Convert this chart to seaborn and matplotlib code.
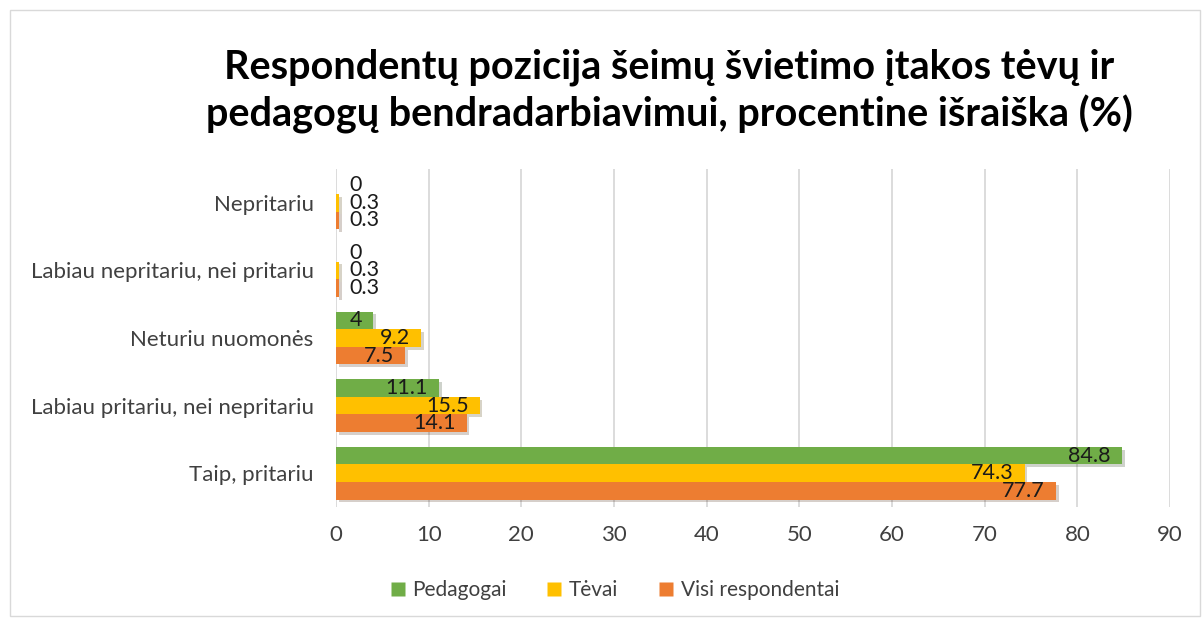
import matplotlib
matplotlib.use("Agg")
import matplotlib.pyplot as plt
import matplotlib.patheffects as pe
from matplotlib.patches import Rectangle
from matplotlib.lines import Line2D
import seaborn as sns
import pandas as pd

# Data
categories = ["Nepritariu", "Labiau nepritariu, nei pritariu", "Neturiu nuomonės",
              "Labiau pritariu, nei nepritariu", "Taip, pritariu"]
series = ["Pedagogai", "Tėvai", "Visi respondentai"]
pedagogai = [0, 0, 4, 11.1, 84.8]
tevai = [0.3, 0.3, 9.2, 15.5, 74.3]
visi = [0.3, 0.3, 7.5, 14.1, 77.7]
colors = ["#70AD47", "#FFC000", "#ED7D31"]

rows = []
for s, vals in zip(series, [pedagogai, tevai, visi]):
    for c, v in zip(categories, vals):
        rows.append({"Kategorija": c, "Grupė": s, "Reikšmė": v})
df = pd.DataFrame(rows)

sns.set_style("white")
plt.rcParams['font.family'] = ['Lato', 'DejaVu Sans']

fig = plt.figure(figsize=(12.02, 6.2), dpi=100)
ax = fig.add_axes([0.2795, 0.1823, 0.6939, 0.5451])

sns.barplot(data=df, y="Kategorija", x="Reikšmė", hue="Grupė", order=categories,
            hue_order=series, palette=colors, orient="h", width=0.78,
            saturation=1, ax=ax, legend=False)

shadow = [pe.SimplePatchShadow(offset=(2, -2), alpha=0.22), pe.Normal()]
for cont in ax.containers:
    for bar in cont:
        bar.set_path_effects(shadow)
        bar.set_edgecolor("none")
        w = bar.get_width()
        yc = bar.get_y() + bar.get_height() / 2
        if w < 2:
            ax.annotate(f"{w:g}", (0, yc), xytext=(10, 0), textcoords="offset points",
                        ha="left", va="center", fontsize=15.5, color="#1a1a1a")
        else:
            ax.annotate(f"{w:g}", (w, yc), xytext=(-8, 0), textcoords="offset points",
                        ha="right", va="center", fontsize=15.5, color="#1a1a1a")

ax.set_xlim(0, 90)
ax.set_xticks(range(0, 91, 10))
ax.grid(axis="x", color="#D9D9D9", linewidth=1.3)
ax.set_axisbelow(True)
for sp in ax.spines.values():
    sp.set_visible(False)
ax.set_xlabel("")
ax.set_ylabel("")
ax.tick_params(axis="both", length=0, labelsize=16, labelcolor="#404040")
ax.tick_params(axis="y", pad=16)
ax.tick_params(axis="x", pad=13)

fig.text(0.557, 0.853, "Respondentų pozicija šeimų švietimo įtakos tėvų ir\n"
         "pedagogų bendradarbiavimui, procentine išraiška (%)",
         ha="center", va="center", fontsize=28.5, fontweight="bold",
         color="#000000", linespacing=1.3)

handles = [Line2D([0], [0], marker="s", color="none", markerfacecolor=c,
                  markeredgecolor="none", markersize=10) for c in colors]
fig.legend(handles, series, loc="center", bbox_to_anchor=(0.511, 0.048), ncol=3,
           frameon=False, fontsize=15, handlelength=0.8, handletextpad=0.3,
           columnspacing=1.9, labelcolor="#404040")

fig.patches.append(Rectangle((0.008, 0.006), 0.99, 0.978, transform=fig.transFigure,
                             fill=False, edgecolor="#D9D9D9", linewidth=1))

fig.savefig("out.png", dpi=100, facecolor="white")
